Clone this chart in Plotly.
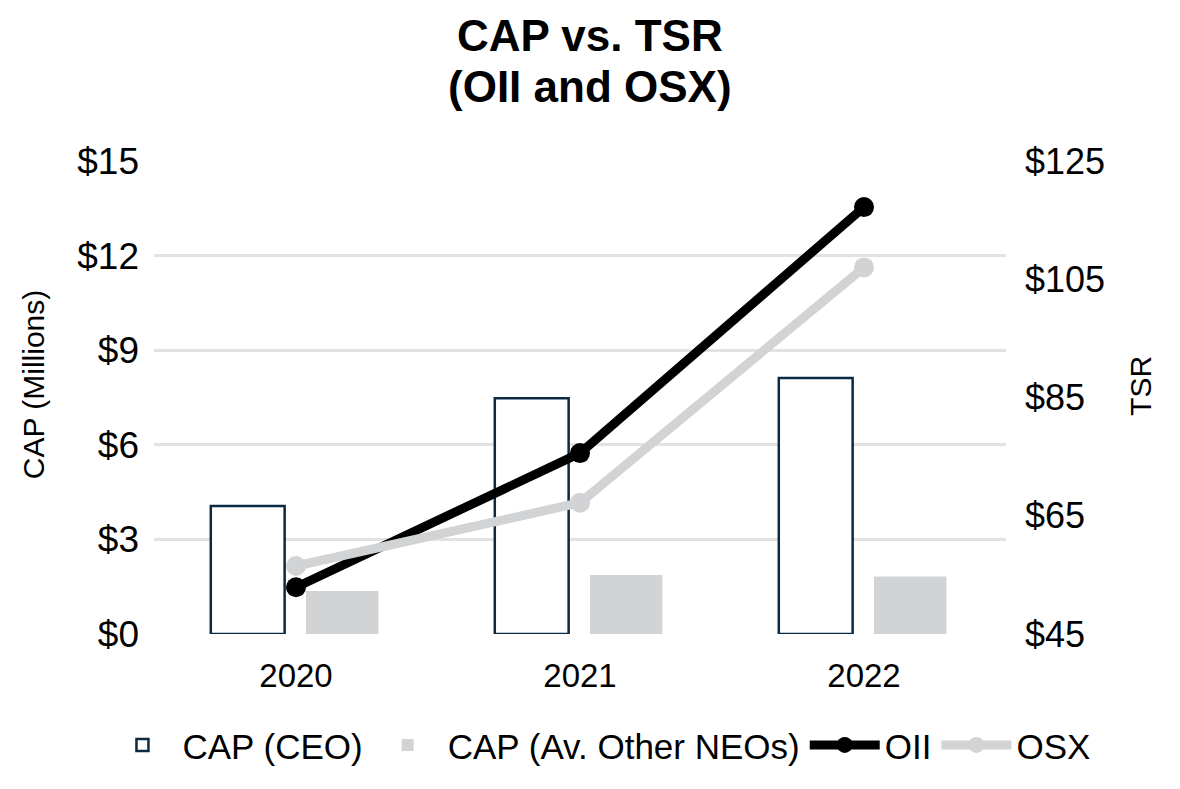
import plotly.graph_objects as go

years = ["2020", "2021", "2022"]
cap_ceo = [4.06, 7.48, 8.12]
cap_other = [1.36, 1.87, 1.82]
tsr_oii = [52.9, 75.6, 117.2]
tsr_osx = [56.5, 67.2, 107.0]

left_ticks = [0, 3, 6, 9, 12, 15]
right_ticks = [45, 65, 85, 105, 125]
title_lines = ["CAP vs. TSR", "(OII and OSX)"]

FONT = "Liberation Sans, Arial, sans-serif"

fig = go.Figure()
fig.add_trace(go.Bar(
    x=years, y=cap_ceo, name="CAP (CEO)",
    marker=dict(color="white", line=dict(color="#0c2a42", width=2.5)),
    width=0.26, offset=-0.30,
))
fig.add_trace(go.Bar(
    x=years, y=cap_other, name="CAP (Av. Other NEOs)",
    marker=dict(color="#d2d3d5", line=dict(width=0)),
    width=0.255, offset=0.035,
))
fig.add_trace(go.Scatter(
    x=years, y=tsr_oii, name="OII", yaxis="y2", mode="lines+markers",
    line=dict(color="#000000", width=9), marker=dict(size=20, color="#000000"),
))
fig.add_trace(go.Scatter(
    x=years, y=tsr_osx, name="OSX", yaxis="y2", mode="lines+markers",
    line=dict(color="#d2d3d5", width=9), marker=dict(size=20, color="#d2d3d5"),
))

for txt, ypos in zip(title_lines, [1.266, 1.158]):
    fig.add_annotation(text=f"<b>{txt}</b>", x=0.512, xref="paper", y=ypos, yref="paper",
                       xanchor="center", yanchor="middle", showarrow=False,
                       font=dict(size=44, family=FONT, color="#000000"))

fig.add_annotation(text="CAP (Millions)", x=-0.142, xref="paper", y=0.526, yref="paper",
                   xanchor="center", yanchor="middle", textangle=-90, showarrow=False,
                   font=dict(size=30, family=FONT, color="#000000"))
fig.add_annotation(text="TSR", x=1.157, xref="paper", y=0.524, yref="paper",
                   xanchor="center", yanchor="middle", textangle=-90, showarrow=False,
                   font=dict(size=30, family=FONT, color="#000000"))

fig.update_layout(
    width=1172, height=781,
    paper_bgcolor="white", plot_bgcolor="white",
    font=dict(family=FONT, color="#000000"),
    margin=dict(l=146, r=174, t=153, b=155, autoexpand=False),
    xaxis=dict(type="category", showgrid=False, showline=False, ticks="",
               tickfont=dict(size=33), ticklabelstandoff=19),
    yaxis=dict(range=[0, 15], tickvals=left_ticks, ticktext=[f"${v}" for v in left_ticks],
               showgrid=True, gridcolor="#e2e2e2", gridwidth=2.5, zeroline=False,
               showline=False, tickfont=dict(size=37), ticklabelstandoff=14),
    yaxis2=dict(range=[45, 125], tickvals=right_ticks, ticktext=[f"${v}" for v in right_ticks],
                overlaying="y", side="right", showgrid=False, zeroline=False,
                showline=False, tickfont=dict(size=36), ticklabelstandoff=18),
    legend=dict(orientation="h", x=1.105, xanchor="right", y=-0.235, yanchor="middle",
                font=dict(size=35), itemwidth=70, traceorder="normal"),
    showlegend=True,
)

fig.write_html("out.html")
